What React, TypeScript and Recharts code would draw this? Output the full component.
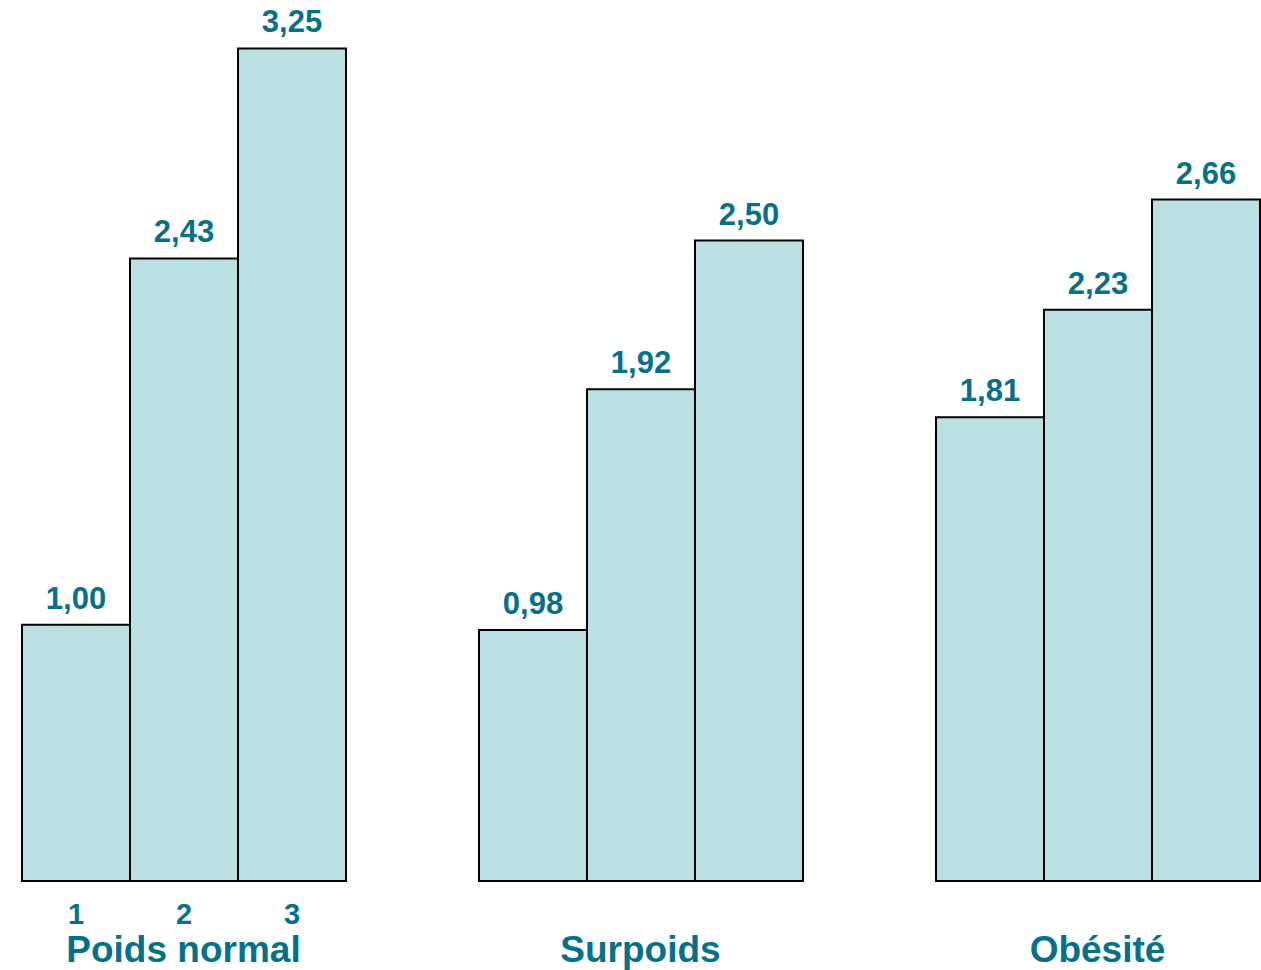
import { BarChart, Bar, XAxis, YAxis, LabelList } from 'recharts'

// Relative risk by weight class, three levels per class
const groups = ['Poids normal', 'Surpoids', 'Obésité']
const level1 = [1.0, 0.98, 1.81]
const level2 = [2.43, 1.92, 2.23]
const level3 = [3.25, 2.5, 2.66]
const levelNames = ['1', '2', '3']

const data = groups.map((g, i) => ({
  group: g,
  l1: level1[i],
  l2: level2[i],
  l3: level3[i],
}))

const TEAL = '#05708A'
const FILL = '#BBE0E3'
const FONT = '"Liberation Sans", Arial, sans-serif'

const fmt = (v: any) => Number(v).toFixed(2).replace('.', ',')

const GroupTick = (props: any) => {
  const { x, y, payload } = props
  return (
    <text
      x={x}
      y={y + 73}
      textAnchor="middle"
      fill={TEAL}
      fontFamily={FONT}
      fontWeight="bold"
      fontSize={37}
    >
      {payload.value}
    </text>
  )
}

// level numbers are only written under the first group
const levelLabel = (name: string) => (props: any) => {
  const { x, y, width, height, index } = props
  if (index !== 0) return null
  return (
    <text
      x={Number(x) + Number(width) / 2}
      y={Number(y) + Number(height) + 43}
      textAnchor="middle"
      fill={TEAL}
      fontFamily={FONT}
      fontWeight="bold"
      fontSize={29}
    >
      {name}
    </text>
  )
}

const valueLabelStyle = {
  fill: TEAL,
  fontFamily: FONT,
  fontWeight: 'bold',
  fontSize: 31,
}

export default function App() {
  const keys = ['l1', 'l2', 'l3']
  return (
    <div
      style={{
        position: 'absolute',
        left: 0,
        top: 0,
        width: 1261,
        height: 970,
        overflow: 'hidden',
        background: '#fff',
      }}
    >
      <div style={{ position: 'absolute', left: -45, top: 0 }}>
        <BarChart
          width={1371}
          height={970}
          data={data}
          margin={{ top: 10, right: 0, bottom: 0, left: 0 }}
          barGap={0}
          barSize={108}
        >
          <XAxis
            dataKey="group"
            axisLine={false}
            tickLine={false}
            height={89}
            interval={0}
            tick={<GroupTick />}
          />
          <YAxis hide domain={[0, 3.4]} />
          {keys.map((k, i) => (
            <Bar
              key={k}
              dataKey={k}
              fill={FILL}
              stroke="#000"
              strokeWidth={2}
              isAnimationActive={false}
            >
              <LabelList
                dataKey={k}
                position="top"
                offset={16}
                formatter={fmt}
                style={valueLabelStyle}
              />
              <LabelList dataKey={k} content={levelLabel(levelNames[i])} />
            </Bar>
          ))}
        </BarChart>
      </div>
    </div>
  )
}
